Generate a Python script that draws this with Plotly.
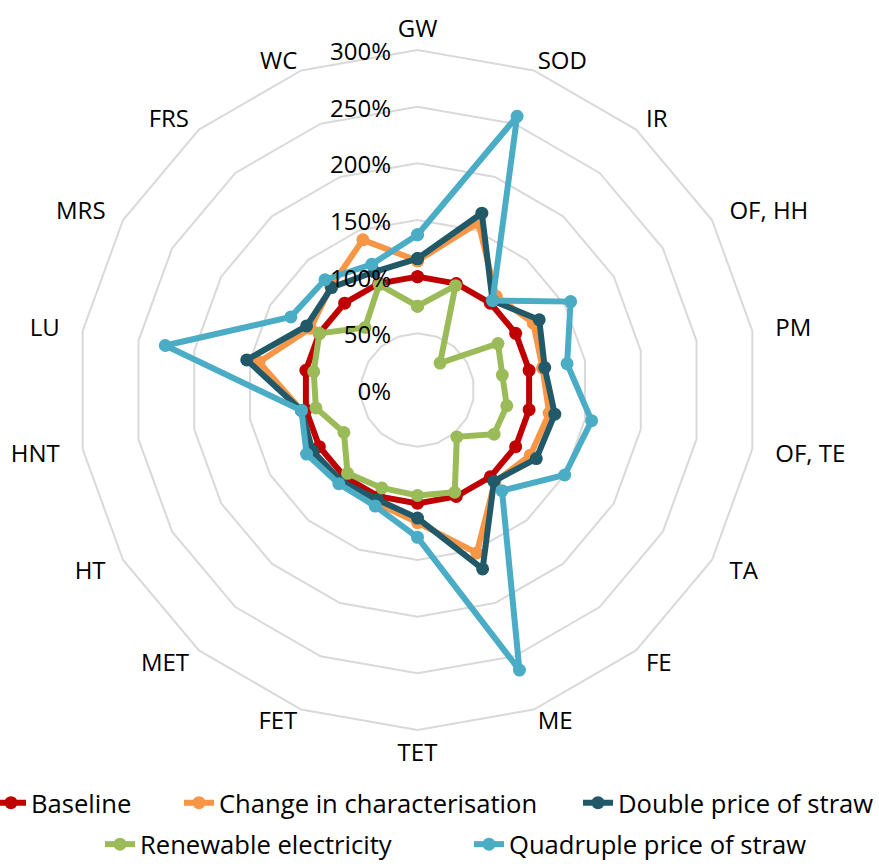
import math
import plotly.graph_objects as go

# Impact categories, clockwise from the top
categories = ["GW", "SOD", "IR", "OF, HH", "PM", "OF, TE", "TA", "FE", "ME",
              "TET", "FET", "MET", "HT", "HNT", "LU", "MRS", "FRS", "WC"]

# Scenario results relative to the baseline (%)
baseline = [100, 100, 100, 100, 100, 100, 100, 100, 100,
            100, 100, 100, 100, 100, 100, 100, 100, 100]
change_characterisation = [114, 157, 108, 118, 112, 118, 115, 106, 153,
                           117, 106, 107, 110, 104, 142, 109, 119, 141]
double_price_straw = [116, 166, 103, 124, 114, 123, 121, 105, 168,
                      113, 103, 105, 107, 104, 153, 113, 118, 111]
renewable_electricity = [74, 98, 31, 82, 76, 80, 78, 54, 96,
                         93, 92, 96, 75, 91, 93, 100, 72, 99]
quadruple_price_straw = [137, 257, 103, 156, 134, 156, 150, 116, 263,
                         130, 109, 108, 113, 104, 226, 129, 127, 118]

radial_ticks = [0, 50, 100, 150, 200, 250, 300]
radial_tick_text = [f"{v}%" for v in radial_ticks]
RADIAL_MAX = 300

series_names = ["Baseline", "Change in characterisation", "Double price of straw",
                "Renewable electricity", "Quadruple price of straw"]
series_values = [baseline, change_characterisation, double_price_straw,
                 renewable_electricity, quadruple_price_straw]
series_colors = ["#C00000", "#F79646", "#215968", "#9BBB59", "#4BACC6"]

# ---- geometry (pixels) ----
W, H = 879, 868
cx, cy, R = 417.5, 390.0, 340.0
LABEL_R = 308.5        # base radius (%) of the category names
LABEL_SPREAD = 12.4    # extra radius for names beside the chart
LABEL_SHIFT = (0, 3)   # nudge of the category-name frame
TICK_SHIFT = (-26.5, 4)  # nudge of the percentage labels left of the axis
TICK_PAD = 2           # small negative radial room so the 0% label is kept

# one legend box per entry: (anchor x, x anchor side, y, y anchor side)
legend_slots = [(-9, "left", H - 803, "middle"), (179, "left", H - 803, "middle"),
                (879, "right", H - 803, "middle"),
                (100, "left", 0, "bottom"), (469, "left", 0, "bottom")]
legend_ids = ["legend", "legend2", "legend3", "legend4", "legend5"]

label_font = dict(family="Open Sans, DejaVu Sans, sans-serif", size=24, color="#000000")
legend_font = dict(family="Open Sans, DejaVu Sans, sans-serif", size=25.6, color="#000000")
grid_color = "#D9D9D9"

fig = go.Figure()
for name, values, color, legend_id in zip(series_names, series_values, series_colors, legend_ids):
    fig.add_trace(go.Scatterpolar(
        r=values + values[:1],
        theta=categories + categories[:1],
        mode="lines+markers",
        name=name,
        line=dict(color=color, width=6),
        marker=dict(color=color, size=13),
        legend=legend_id,
        subplot="polar",
    ))

n = len(categories)
label_angles = [360.0 * i / n for i in range(n)]
label_r = [LABEL_R + LABEL_SPREAD * math.sin(math.radians(a)) ** 2 for a in label_angles]
label_r_max = max(label_r)


def label_position(angle):
    if angle == 0:
        return "top center"
    if angle == 180:
        return "bottom center"
    return "middle right" if angle < 180 else "middle left"


# Category names around the outer ring
fig.add_trace(go.Scatterpolar(
    r=label_r,
    theta=categories,
    mode="text",
    text=categories,
    textposition=[label_position(a) for a in label_angles],
    textfont=label_font,
    cliponaxis=False,
    showlegend=False,
    hoverinfo="skip",
    subplot="polar2",
))

# Percentage labels beside the vertical (GW) axis
fig.add_trace(go.Scatterpolar(
    r=radial_ticks,
    theta=[categories[0]] * len(radial_ticks),
    mode="text",
    text=radial_tick_text,
    textposition="middle left",
    textfont=label_font,
    cliponaxis=False,
    showlegend=False,
    hoverinfo="skip",
    subplot="polar3",
))


def square_domain(radius, shift=(0, 0)):
    x0, y0 = cx + shift[0], cy + shift[1]
    return dict(x=[(x0 - radius) / W, (x0 + radius) / W],
                y=[(H - y0 - radius) / H, (H - y0 + radius) / H])


def hidden_polar(shift, rmin, rmax, gridshape="linear"):
    radius = R * (rmax - rmin) / RADIAL_MAX
    return dict(
        domain=square_domain(radius, shift),
        bgcolor="rgba(0,0,0,0)",
        gridshape=gridshape,
        radialaxis=dict(range=[rmin, rmax], visible=False),
        angularaxis=dict(rotation=90, direction="clockwise", visible=False,
                         categoryarray=categories, categoryorder="array"),
    )


layout_legends = {}
for legend_id, (anchor_x, xside, anchor_y, yside) in zip(legend_ids, legend_slots):
    layout_legends[legend_id] = dict(
        orientation="h",
        x=anchor_x / W, xanchor=xside,
        y=anchor_y / H, yanchor=yside,
        font=legend_font,
        bgcolor="rgba(0,0,0,0)",
        borderwidth=0,
    )

fig.update_layout(
    width=W,
    height=H,
    margin=dict(l=0, r=0, t=0, b=0, autoexpand=False),
    paper_bgcolor="white",
    plot_bgcolor="white",
    polar=dict(
        domain=square_domain(R),
        bgcolor="white",
        gridshape="linear",
        radialaxis=dict(
            range=[0, RADIAL_MAX],
            tickvals=radial_ticks,
            showticklabels=False,
            angle=90,
            showline=False,
            gridcolor=grid_color,
            gridwidth=2,
            ticks="",
        ),
        angularaxis=dict(
            rotation=90,
            direction="clockwise",
            showgrid=False,
            showline=True,
            linecolor=grid_color,
            linewidth=2,
            showticklabels=False,
            ticks="",
        ),
    ),
    polar2=hidden_polar(LABEL_SHIFT, 0, label_r_max),
    polar3=hidden_polar((TICK_SHIFT[0], TICK_SHIFT[1] + TICK_PAD * R / RADIAL_MAX),
                        -TICK_PAD, RADIAL_MAX, gridshape="circular"),
    showlegend=True,
    **layout_legends,
)

fig.write_html("out.html")
